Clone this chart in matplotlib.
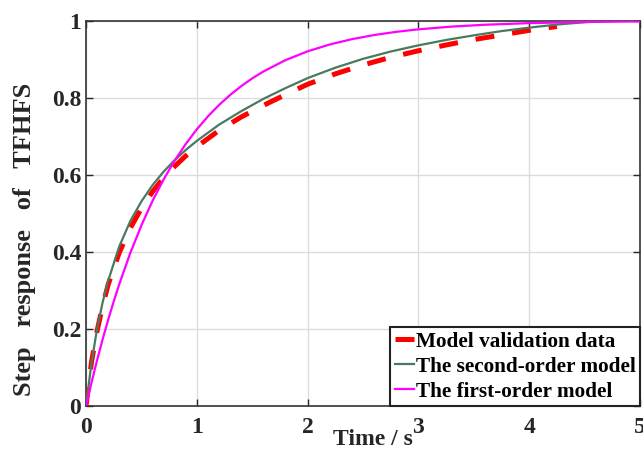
import matplotlib
matplotlib.use("Agg")
import matplotlib.pyplot as plt

plt.rcParams['font.family'] = ['Liberation Serif', 'DejaVu Serif']
plt.rcParams['font.weight'] = 'bold'

# Model validation data (red dashed)
t_data = [0, 0.05, 0.1, 0.15, 0.2, 0.3, 0.4, 0.5, 0.6, 0.7, 0.8, 0.9, 1.0, 1.2, 1.4,
          1.6, 1.8, 2.0, 2.25, 2.5, 2.75, 3.0, 3.25, 3.5, 3.75, 4.0, 4.25]
y_data = [0, 0.115, 0.195, 0.26, 0.315, 0.398, 0.462, 0.513, 0.556, 0.592, 0.622,
          0.649, 0.673, 0.715, 0.750, 0.780, 0.808, 0.835, 0.862, 0.885, 0.905, 0.922,
          0.937, 0.951, 0.963, 0.975, 0.985]

# Second-order model (green)
t_second = [0, 0.05, 0.1, 0.15, 0.2, 0.3, 0.4, 0.5, 0.6, 0.7, 0.8, 0.9, 1.0, 1.2, 1.4,
            1.6, 1.8, 2.0, 2.25, 2.5, 2.75, 3.0, 3.25, 3.5, 3.75, 4.0, 4.25, 4.5, 4.64]
y_second = [0, 0.1125, 0.2005, 0.269, 0.325, 0.414, 0.480, 0.531, 0.573, 0.608,
            0.638, 0.6645, 0.688, 0.730, 0.765, 0.797, 0.825, 0.851, 0.878, 0.901,
            0.920, 0.936, 0.950, 0.962, 0.973, 0.982, 0.990, 0.996, 0.999]

# First-order model (magenta)
t_first = [0, 0.05, 0.1, 0.15, 0.2, 0.25, 0.3, 0.4, 0.5, 0.6, 0.7, 0.8, 0.9, 1.0, 1.1,
           1.2, 1.3, 1.4, 1.5, 1.6, 1.8, 2.0, 2.2, 2.4, 2.6, 2.8, 3.0, 3.3, 3.6, 4.0,
           4.5, 5.0]
y_first = [0, 0.0613, 0.1189, 0.1729, 0.2237, 0.2713, 0.3160, 0.3973, 0.4689, 0.5321,
           0.5877, 0.6368, 0.6799, 0.7180, 0.7515, 0.7811, 0.8071, 0.8300, 0.8503,
           0.8680, 0.8976, 0.9205, 0.9383, 0.9521, 0.9628, 0.9711, 0.9776, 0.9847,
           0.9895, 0.9937, 0.9966, 0.9982]

labels = ['Model validation data', 'The second-order model', 'The first-order model']
xticks = [0, 1, 2, 3, 4, 5]
yticks = [0, 0.2, 0.4, 0.6, 0.8, 1]
yticklabels = ['0', '0.2', '0.4', '0.6', '0.8', '1']

fig = plt.figure(figsize=(6.43, 4.5), dpi=100)
ax = fig.add_axes([86 / 643, 1 - 406 / 450, (640 - 86) / 643, (406 - 20.7) / 450])

ax.plot(t_data, y_data, color='#ff0000', lw=3.6, dashes=(3.8, 3.6), label=labels[0], zorder=3)
ax.plot(t_second, y_second, color='#487a60', lw=1.6, label=labels[1], zorder=4)
ax.plot(t_first, y_first, color='#ff00ff', lw=1.6, label=labels[2], zorder=4)

ax.set_xlim(0, 5)
ax.set_ylim(0, 1)
ax.set_xticks(xticks)
ax.set_yticks(yticks)
ax.set_yticklabels(yticklabels)
ax.grid(True, color='#dcdcdc', lw=1.0)
ax.set_axisbelow(True)
ax.tick_params(direction='in', length=5, width=1, top=True, right=True,
               labelsize=17, colors='#262626', pad=8)
ax.tick_params(axis='y', pad=3.5)
for lab in ax.get_xticklabels() + ax.get_yticklabels():
    lab.set_fontweight('bold')
for s in ax.spines.values():
    s.set_color('#333333')
    s.set_linewidth(1.2)

ax.set_xlabel('Time / s', fontsize=17, fontweight='bold', color='#262626')
ax.xaxis.set_label_coords((373 - 86) / 554, -0.059)
ax.set_ylabel('Step   response   of   TFHFS', fontsize=19, fontweight='bold',
              color='#262626')
ax.yaxis.set_label_coords(-0.09, (406 - 240) / 385)

leg = ax.legend(loc='lower right', borderaxespad=0, fontsize=15.3, handlelength=0.9,
                handletextpad=0.1, labelspacing=0.24, borderpad=0.2, fancybox=False,
                framealpha=1, edgecolor='#222222')
leg.get_frame().set_linewidth(1.5)
for txt in leg.get_texts():
    txt.set_fontweight('bold')

fig.savefig('out.png', dpi=100)
